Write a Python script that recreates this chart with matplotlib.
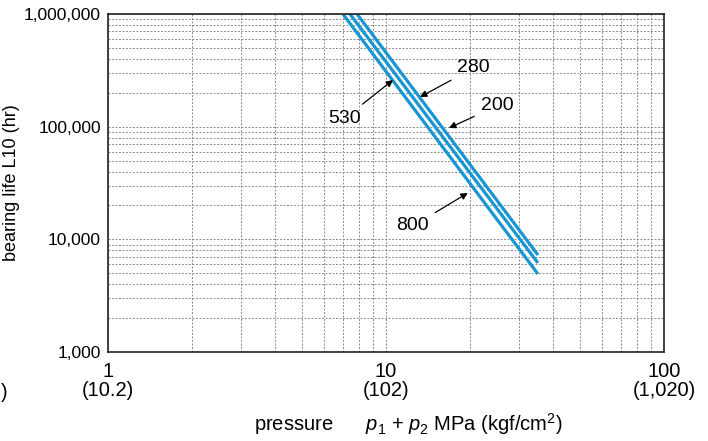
import matplotlib.pyplot as plt
import numpy as np
from matplotlib.ticker import FixedLocator, LogLocator, NullFormatter

plt.rcParams['font.family'] = ['Liberation Sans', 'DejaVu Sans']
plt.rcParams['mathtext.fontset'] = 'custom'
plt.rcParams['mathtext.rm'] = 'Liberation Sans'
plt.rcParams['mathtext.it'] = 'Liberation Sans:italic'

# pressure p1+p2 (MPa) and bearing life (hr) at the two ends of each line
line_names = ['530', 'mid', '280']
pressure_start = [7.0, 7.42, 7.87]
pressure_end = [35.2, 35.2, 35.2]
life_start = [1e6, 1e6, 1e6]
life_end = [4930, 6180, 7270]

# labels: (text, text position, arrow tip) in data coordinates
labels = ['530', '280', '200', '800']
label_xy = [(7.12, 119400), (20.7, 331900), (25.1, 152700), (12.5, 13150)]
arrow_xy = [(10.6, 259500), (13.25, 183400), (16.85, 97400), (19.7, 25800)]

xticks = [1, 10, 100]
xticklabels = ['1\n(10.2)', '10\n(102)', '100\n(1,020)']
yticks = [1000, 10000, 100000, 1000000]
yticklabels = ['1,000', '10,000', '100,000', '1,000,000']

fig = plt.figure(figsize=(7.08, 4.41), dpi=100)
ax = fig.add_axes([0.1525, 0.2018, 0.7853, 0.7664])

ax.set_xscale('log')
ax.set_yscale('log')
ax.set_xlim(1, 100)
ax.set_ylim(1000, 1e6)

# grid
ax.xaxis.set_major_locator(FixedLocator(xticks))
ax.yaxis.set_major_locator(FixedLocator(yticks))
ax.xaxis.set_minor_locator(LogLocator(base=10, subs=np.arange(2, 10)))
ax.yaxis.set_minor_locator(LogLocator(base=10, subs=np.arange(2, 10)))
ax.xaxis.set_minor_formatter(NullFormatter())
ax.yaxis.set_minor_formatter(NullFormatter())
ax.grid(which='both', color='#8c8c8c', linestyle=(0, (2.0, 1.6)), linewidth=0.7)
ax.set_axisbelow(True)

for i, name in enumerate(line_names):
    ax.plot([pressure_start[i], pressure_end[i]], [life_start[i], life_end[i]],
            color='#1895d3', linewidth=2.3, solid_capstyle='butt')

for txt, xy, tip in zip(labels, label_xy, arrow_xy):
    ax.annotate(txt, xy=tip, xytext=xy, ha='center', va='center', fontsize=14,
                arrowprops=dict(arrowstyle='-|>', color='black', lw=0.9,
                                mutation_scale=10, shrinkA=3, shrinkB=0))

ax.set_xticklabels(xticklabels, fontsize=14.5, linespacing=1.0)
ax.set_yticklabels(yticklabels, fontsize=12.5)
ax.tick_params(which='both', length=0)
ax.tick_params(axis='x', pad=7)
ax.tick_params(axis='y', pad=5)

for s in ax.spines.values():
    s.set_linewidth(1.2)
    s.set_color('#222222')

ax.set_ylabel('bearing life L10 (hr)', fontsize=13, labelpad=3)
ax.set_xlabel(r'pressure      $\mathit{p}_{1}$ + $\mathit{p}_{2}$ MPa (kgf/cm$^{2}$)',
              fontsize=14.5, labelpad=8)
ax.xaxis.label.set_x(0.54)

# left-edge remnant of a cut-off label
fig.text(0.001, 0.11, ')', ha='left', va='center', fontsize=14.5)

plt.savefig('out.png', dpi=100)
